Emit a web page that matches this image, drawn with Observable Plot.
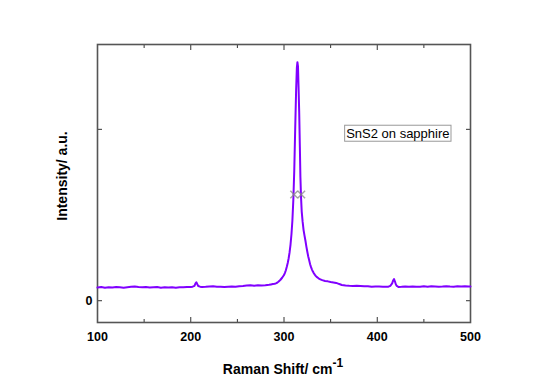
<!DOCTYPE html>
<html>
<head>
<meta charset="utf-8">
<script src="https://cdn.jsdelivr.net/npm/d3@7"></script>
<script src="https://cdn.jsdelivr.net/npm/@observablehq/plot@0.6"></script>
<style>
  html, body { margin: 0; padding: 0; background: #fff; }
  #chart svg { font-family: "Liberation Sans", Arial, sans-serif; }
</style>
</head>
<body>
<div id="chart"></div>
<script>
// Raman shift (cm^-1)
const shift = [
  100,104,108,112,116,120,124,128,132,136,140,144,148,152,156,160,164,168,172,176,
  180,184,188,192,196,200,202,204,205,206,207,208,210,212,216,220,224,228,232,236,
  240,244,248,252,256,260,264,268,272,276,280,284,286,288,290,292,294,296,298,300,
  301,302,303,304,305,306,307,308,309,310,311,312,313,313.8,314.4,315,315.6,316.3,317,317.6,
  318.3,319,320,321,322,323,324,325,326,327,328,329,330,331,332,333,334,335,337,339,
  341,344,347,350,353,356,358,360,362,366,370,374,378,382,386,390,394,398,402,406,
  410,412,414,416,417,418,419,420,421,423,426,430,434,438,442,446,450,454,458,462,
  466,470,474,478,482,486,490,494,498,500
];
// Intensity (a.u.)
const intensity = [
  77,80,76,79,77,80,78,76,79,81,83,80,78,80,77,79,80,76,78,77,
  79,76,79,78,80,80,82,87,100,108,97,86,82,80,81,83,84,82,81,80,
  82,83,81,84,86,89,91,88,90,89,90,93,95,97,99,103,111,121,134,150,
  163,178,198,220,248,283,328,388,468,588,758,1000,1230,1360,1392,1368,1250,1100,900,720,
  600,520,460,412,380,350,316,286,258,236,213,196,182,170,160,152,145,139,131,125,
  120,115,113,109,107,104,100,96,92,89,87,86,88,86,84,85,82,83,83,82,
  81,82,87,101,118,126,112,95,86,80,81,83,81,83,82,81,84,82,84,83,
  82,83,85,83,82,84,83,84,83,83
];
// grey half-width marker artefacts
const markShift = [310.8, 318.6];
const markIntensity = [620, 620];

const xTicksMajor = [100, 200, 300, 400, 500];
const xTicksMinor = [150, 250, 350, 450];
const yTicks = [0, 1000];
const yTickLabels = ["0", ""];
const legendLabel = "SnS2 on sapphire";

const data = shift.map((s, i) => ({shift: s, intensity: intensity[i]}));
const marks = markShift.map((s, i) => ({shift: s, intensity: markIntensity[i]}));

const font = {fontSize: 12.5, fontWeight: "bold", fill: "#000"};

const plot = Plot.plot({
  width: 546,
  height: 386,
  marginLeft: 97,
  marginRight: 76,
  marginTop: 44,
  marginBottom: 64,
  style: {fontFamily: "Liberation Sans, Arial, sans-serif", background: "#fff"},
  x: {domain: [100, 500]},
  y: {domain: [-127, 1495]},
  marks: [
    Plot.axisX(xTicksMajor, {anchor: "bottom", tickSize: -5, tickFormat: () => "", label: null, stroke: "#333"}),
    Plot.axisX(xTicksMinor, {anchor: "bottom", tickSize: -3, tickFormat: () => "", label: null, stroke: "#333"}),
    Plot.axisX(xTicksMajor, {anchor: "top", tickSize: -5, tickFormat: () => "", label: null, stroke: "#333"}),
    Plot.axisX(xTicksMinor, {anchor: "top", tickSize: -3, tickFormat: () => "", label: null, stroke: "#333"}),
    Plot.axisY(yTicks, {anchor: "left", tickSize: -5, tickFormat: () => "", label: null, stroke: "#333"}),
    Plot.axisY(yTicks, {anchor: "right", tickSize: -5, tickFormat: () => "", label: null, stroke: "#333"}),
    Plot.axisX(xTicksMajor, {anchor: "bottom", tickSize: 0, tickPadding: 10, label: null, ...font}),
    Plot.axisY(yTicks, {anchor: "left", tickSize: 0, tickPadding: 5, tickFormat: (d, i) => yTickLabels[i], label: null, ...font}),
    Plot.frame({stroke: "#555", strokeWidth: 1.6}),
    Plot.line(data, {x: "shift", y: "intensity", stroke: "#8000ff", strokeWidth: 2}),
    Plot.dot(marks, {x: "shift", y: "intensity", symbol: "times", r: 3.5, stroke: "#888", strokeWidth: 1.5, strokeOpacity: 0.75}),
    Plot.text([legendLabel], {frameAnchor: "top-right", dx: -21, dy: 84, textAnchor: "end", fontSize: 13, fill: "#000"})
  ]
});

document.getElementById("chart").appendChild(plot);

const svg = d3.select(plot);
// legend box
const legendText = svg.selectAll("text").filter(function () { return this.textContent === legendLabel; }).node();
if (legendText) {
  const bb = legendText.getBBox();
  d3.select(legendText.parentNode).insert("rect", ":first-child")
    .attr("transform", legendText.getAttribute("transform"))
    .attr("x", bb.x - 1.5).attr("y", bb.y - 0.5)
    .attr("width", bb.width + 3).attr("height", bb.height + 1)
    .attr("fill", "#fff").attr("stroke", "#999").attr("stroke-width", 1);
}
// axis titles
const xt = svg.append("text")
  .attr("x", 283).attr("y", 374)
  .attr("text-anchor", "middle")
  .attr("font-size", 14).attr("font-weight", "bold")
  .attr("font-family", "Liberation Sans, Arial, sans-serif");
xt.append("tspan").text("Raman Shift/ cm");
xt.append("tspan").attr("dy", -7).attr("font-size", 12).text("-1");

svg.append("text")
  .attr("transform", "translate(67,176) rotate(-90)")
  .attr("text-anchor", "middle")
  .attr("font-size", 14).attr("font-weight", "bold")
  .attr("font-family", "Liberation Sans, Arial, sans-serif")
  .text("Intensity/ a.u.");
</script>
</body>
</html>
